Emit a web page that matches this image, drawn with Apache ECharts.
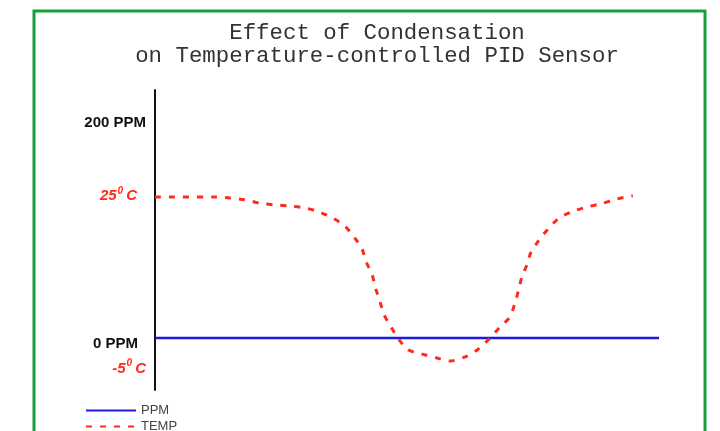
<!DOCTYPE html>
<html><head><meta charset="utf-8">
<script src="https://cdn.jsdelivr.net/npm/echarts@6/dist/echarts.min.js"></script>
<style>html,body{margin:0;padding:0;background:#fff}#c{width:720px;height:431px}</style>
</head><body><div id="c"></div>
<script>
// time positions (arbitrary units, 0..100 across the plot)
const timeTemp = [0, 12.1, 14.9, 17.9, 20.8, 23.8, 26.8, 29.6, 32.5, 35.3, 37.7, 39.7, 41.1, 41.9, 43.1, 43.8, 44.6, 45.4, 46.8, 48.2, 50.2, 52.8, 55.8, 58.5, 61.9, 64.1, 66.5, 68.5, 70.4, 71.4, 72.2, 72.8, 73.8, 74.6, 75.8, 76.8, 78.0, 80.0, 82.7, 85.5, 88.5, 91.5, 94.8];
const tempC = [24.9, 24.9, 24.7, 24.4, 23.8, 23.5, 23.3, 23.0, 22.3, 21.2, 19.8, 17.7, 15.8, 13.6, 11.3, 8.9, 6.8, 4.5, 2.3, 0.35, -1.7, -2.4, -3.1, -3.65, -2.8, -1.6, 0.35, 2.3, 4.0, 6.4, 8.9, 11.0, 13.1, 15.3, 16.9, 18.1, 19.3, 21.1, 22.3, 23.1, 23.7, 24.5, 25.1];
const timePpm = [0, 100];
const ppm = [0, 0];
const ppmTicks = [0, 200];
const ppmTickLabels = ['0 PPM', '200 PPM'];
const tempTicks = [-5, 25];
const tempTickLabels = ['-5', '25'];
const titleLines = ['Effect of Condensation', 'on Temperature-controlled PID Sensor'];
const seriesNames = ['PPM', 'TEMP'];

const chart = echarts.init(document.getElementById('c'), null, {renderer: 'canvas'});
chart.setOption({
  animation: false,
  backgroundColor: '#fff',
  title: {
    text: titleLines.join('\n'),
    left: 372, top: 17, textAlign: 'center',
    textStyle: {fontFamily: 'Liberation Mono', fontWeight: 'normal', fontSize: 22.4, lineHeight: 23, color: '#333'}
  },
  legend: {
    orient: 'vertical', left: 80, top: 399, height: 80, itemWidth: 50, itemHeight: 14, itemGap: 3,
    itemStyle: {opacity: 0},
    textStyle: {fontFamily: 'Liberation Sans', fontSize: 13, color: '#444'},
    data: seriesNames
  },
  graphic: [{
    type: 'rect', shape: {x: 34, y: 11, width: 671, height: 440},
    style: {fill: 'none', stroke: '#17a03a', lineWidth: 3}, z: 100
  }],
  grid: {left: 155, right: 61, top: 90, bottom: 41},
  xAxis: {type: 'value', min: 0, max: 100, show: false},
  yAxis: [{
    type: 'value', min: -47.06, max: 224.4, position: 'left',
    axisLine: {show: true, lineStyle: {color: '#111', width: 2}},
    axisTick: {show: false}, splitLine: {show: false},
    axisLabel: {
      customValues: ppmTicks,
      formatter: v => { const i = ppmTicks.indexOf(v); return i === 0 ? '{b|' + ppmTickLabels[i] + '}' : '{a|' + ppmTickLabels[i] + '}'; },
      margin: 9,
      rich: {
        a: {fontFamily: 'Liberation Sans', fontWeight: 'bold', fontSize: 15, color: '#111', padding: [12, 0, 0, 0]},
        b: {fontFamily: 'Liberation Sans', fontWeight: 'bold', fontSize: 15, color: '#111', padding: [12, 8, 0, 0]}
      }
    }
  }, {
    type: 'value', min: -8.7, max: 43.5, position: 'left', offset: 0,
    axisLine: {show: false}, axisTick: {show: false}, splitLine: {show: false},
    axisLabel: {
      customValues: tempTicks,
      formatter: v => { const i = tempTicks.indexOf(v); const c = i === 0 ? 'c' : 'cp'; return '{n|' + tempTickLabels[i] + '}{s|0}{' + c + '|C}'; },
      margin: 9,
      rich: {
        n: {fontFamily: 'Liberation Sans', fontWeight: 'bold', fontStyle: 'italic', fontSize: 15, color: '#ff2a1a'},
        s: {fontFamily: 'Liberation Sans', fontWeight: 'bold', fontStyle: 'italic', fontSize: 10, color: '#ff2a1a', padding: [0, 3, 10, 1]},
        c: {fontFamily: 'Liberation Sans', fontWeight: 'bold', fontStyle: 'italic', fontSize: 15, color: '#ff2a1a'},
        cp: {fontFamily: 'Liberation Sans', fontWeight: 'bold', fontStyle: 'italic', fontSize: 15, color: '#ff2a1a', padding: [0, 9, 0, 0]}
      }
    }
  }],
  series: [{
    name: seriesNames[0], type: 'line', yAxisIndex: 0, symbol: 'none',
    data: timePpm.map((t, i) => [t, ppm[i]]),
    lineStyle: {color: '#1a1ae0', width: 2.5}, itemStyle: {color: '#1a1ae0'}
  }, {
    name: seriesNames[1], type: 'line', yAxisIndex: 1, symbol: 'none', smooth: 0.3,
    data: timeTemp.map((t, i) => [t, tempC[i]]),
    lineStyle: {color: '#ff2a1a', width: 3, type: [6, 8]}, itemStyle: {color: '#ff2a1a'}
  }]
});
</script>
</body></html>
